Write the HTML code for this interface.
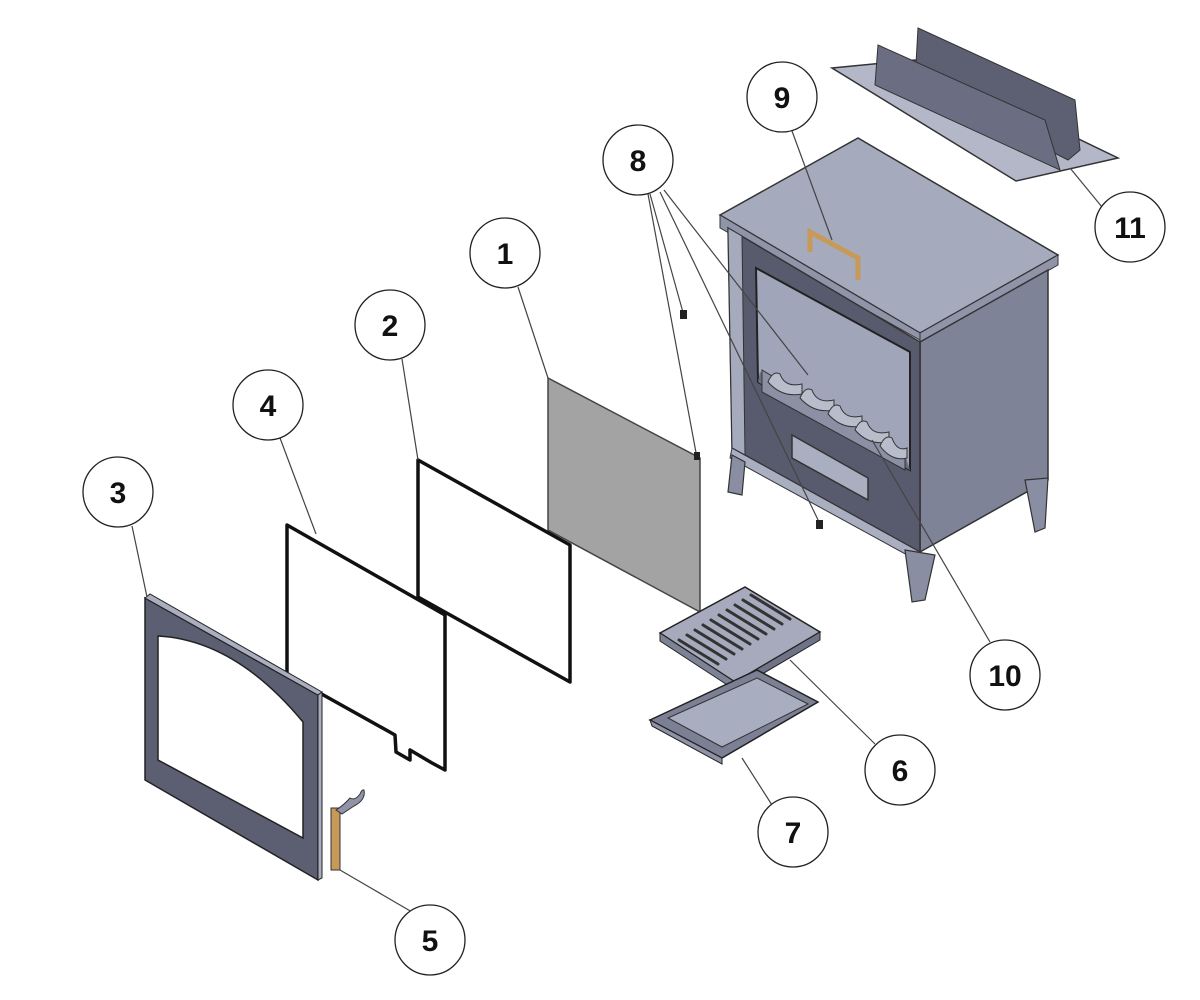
<!DOCTYPE html>
<html><head><meta charset="utf-8"><style>
html,body{margin:0;padding:0;background:#fff;}
svg{display:block;}
text{font-family:"Liberation Sans",sans-serif;font-size:30px;font-weight:bold;fill:#111;}
</style></head><body>
<svg width="1200" height="1000" viewBox="0 0 1200 1000" xmlns="http://www.w3.org/2000/svg">
<!-- top plate 11 -->
<polygon points="832,68 915,60 1118,158 1016,181" fill="#b4b7c7" stroke="#333" stroke-width="1.5"/>
<polygon points="918,28 1075,100 1080,150 1068,160 915,82" fill="#5d6073" stroke="#333" stroke-width="1"/>
<polygon points="878,45 1045,120 1060,170 875,85" fill="#6b6e82" stroke="#333" stroke-width="1"/>
<!-- stove -->
<polygon points="720,215 858,138 1058,255 920,333" fill="#a5aabd" stroke="#333" stroke-width="1.5"/>
<polygon points="720,215 920,333 920,340 720,228" fill="#8f94a8" stroke="#333"/>
<polygon points="920,333 1058,255 1058,265 920,343" fill="#8f94a8" stroke="#333"/>
<polygon points="920,342 1048,270 1048,480 920,552" fill="#7e8398" stroke="#333" stroke-width="1.5"/>
<polygon points="728,228 920,342 920,552 732,448" fill="#585b6e" stroke="#333" stroke-width="1.5"/>
<polygon points="728,228 742,236 745,455 732,448" fill="#a5aabd" stroke="#333"/>
<polygon points="756,268 910,352 910,470 758,382" fill="#a0a5ba" stroke="#222" stroke-width="2"/>
<polygon points="758,382 910,470 905,455 760,372" fill="#6a6e82"/>
<polygon points="762,370 905,455 905,470 762,392" fill="#8c90a4" stroke="#333"/>
<polygon points="792,435 868,478 868,500 792,458" fill="#a9aec0" stroke="#333" stroke-width="1.5"/>
<polygon points="732,448 920,552 920,562 730,458" fill="#a9aec0" stroke="#333"/>
<!-- grate teeth -->
<g fill="#b8bccb" stroke="#333" stroke-width="1">
<path d="M768,382 q5,-12 12,-8 q5,14 22,10 l0,10 q-20,4 -34,-12z"/>
<path d="M800,398 q5,-12 12,-8 q5,14 22,10 l0,10 q-20,4 -34,-12z"/>
<path d="M828,414 q5,-12 12,-8 q5,14 22,10 l0,10 q-20,4 -34,-12z"/>
<path d="M855,430 q5,-12 12,-8 q5,14 22,10 l0,10 q-20,4 -34,-12z"/>
<path d="M880,446 q5,-12 12,-8 q5,14 15,10 l0,10 q-15,4 -27,-12z"/>
</g>
<!-- legs -->
<g fill="#8a8ea2" stroke="#333" stroke-width="1.2">
<polygon points="732,455 745,462 742,495 728,492"/>
<polygon points="905,550 935,555 925,600 912,602"/>
<polygon points="1025,480 1048,478 1045,528 1035,532"/>
</g>
<!-- handle 9 -->
<path d="M810,252 L810,232 L858,258 L858,280" fill="none" stroke="#c79a5a" stroke-width="5"/>
<!-- glass 1 -->
<polygon points="548,378 700,458 700,612 548,530" fill="#a3a3a3" stroke="#444" stroke-width="1.5"/>
<!-- gasket 2 -->
<polygon points="418,460 570,545 570,682 418,597" fill="none" stroke="#111" stroke-width="3.5" stroke-linejoin="round"/>
<!-- gasket 4 -->
<path d="M287,525 L445,615 L445,770 L432,763 L410,750 L410,760 L396,752 L395,735 L318,692 L287,675 Z" fill="none" stroke="#111" stroke-width="3.5" stroke-linejoin="round"/>
<!-- door 3 -->
<polygon points="145,598 318,695 318,880 145,780" fill="#5c5f72" stroke="#222" stroke-width="1.5"/>
<polygon points="145,598 150,594 322,692 318,695" fill="#a9aec0" stroke="#222"/>
<polygon points="318,695 322,692 322,878 318,880" fill="#a9aec0" stroke="#222"/>
<path d="M158,636 Q235,640 303,722 L303,838 L158,760 Z" fill="#fff" stroke="#222" stroke-width="1.5"/>
<!-- handle 5 -->
<rect x="331" y="808" width="9" height="62" fill="#c79a5a" stroke="#333"/>
<path d="M336,810 q8,-5 14,-12 q5,3 10,-4 q2,-5 4,-4 q2,10 -10,16 l-12,8z" fill="#9094a6" stroke="#333"/>
<!-- grate 6 -->
<polygon points="660,633 745,587 820,632 735,682" fill="#a6aabc" stroke="#222" stroke-width="1.5"/>
<polygon points="660,633 735,682 735,690 660,641" fill="#7e8296" stroke="#222"/>
<polygon points="735,682 820,632 820,640 735,690" fill="#6f7388" stroke="#222"/>
<g stroke="#333" stroke-width="3" stroke-linecap="round">
<line x1="679" y1="640" x2="718" y2="664"/><line x1="687" y1="635" x2="726" y2="659"/>
<line x1="695" y1="630" x2="734" y2="654"/><line x1="703" y1="625" x2="742" y2="649"/>
<line x1="711" y1="620" x2="750" y2="644"/><line x1="719" y1="615" x2="758" y2="639"/>
<line x1="727" y1="610" x2="766" y2="634"/><line x1="735" y1="605" x2="774" y2="629"/>
<line x1="743" y1="600" x2="782" y2="624"/><line x1="751" y1="595" x2="790" y2="619"/>
</g>
<!-- ash pan 7 -->
<polygon points="650,720 757,670 818,702 722,758" fill="#7c8094" stroke="#222" stroke-width="1.5"/>
<polygon points="668,718 757,678 808,704 722,747" fill="#a8adbf" stroke="#333"/>
<polygon points="650,720 722,758 722,764 652,726" fill="#8f93a6" stroke="#222"/>
<!-- leader lines -->
<g stroke="#444" stroke-width="1.2" fill="none">
<line x1="518" y1="287" x2="548" y2="378"/>
<line x1="402" y1="359" x2="418" y2="460"/>
<line x1="132" y1="526" x2="147" y2="597"/>
<line x1="280" y1="438" x2="316" y2="534"/>
<line x1="412" y1="912" x2="340" y2="870"/>
<line x1="875" y1="744" x2="790" y2="660"/>
<line x1="772" y1="805" x2="742" y2="758"/>
<line x1="650" y1="194" x2="684" y2="316"/>
<line x1="648" y1="194" x2="697" y2="458"/>
<line x1="660" y1="192" x2="820" y2="524"/>
<line x1="664" y1="190" x2="808" y2="375"/>
<line x1="792" y1="131" x2="832" y2="240"/>
<line x1="990" y1="642" x2="872" y2="440"/>
<line x1="1102" y1="207" x2="1070" y2="168"/>
</g>
<g fill="#222">
<rect x="680" y="310" width="7" height="9"/><rect x="694" y="452" width="6" height="8"/><rect x="816" y="520" width="7" height="9"/>
</g>
<!-- callouts -->
<g fill="#fff" stroke="#222" stroke-width="1.3">
<circle cx="505" cy="253" r="35"/><circle cx="390" cy="325" r="35"/><circle cx="118" cy="492" r="35"/>
<circle cx="268" cy="405" r="35"/><circle cx="430" cy="940" r="35"/><circle cx="900" cy="770" r="35"/>
<circle cx="793" cy="832" r="35"/><circle cx="638" cy="160" r="35"/><circle cx="782" cy="97" r="35"/>
<circle cx="1005" cy="675" r="35"/><circle cx="1130" cy="227" r="35"/>
</g>
<g text-anchor="middle">
<text x="505" y="264">1</text><text x="390" y="336">2</text><text x="118" y="503">3</text>
<text x="268" y="416">4</text><text x="430" y="951">5</text><text x="900" y="781">6</text>
<text x="793" y="843">7</text><text x="638" y="171">8</text><text x="782" y="108">9</text>
<text x="1005" y="686">10</text><text x="1130" y="238">11</text>
</g>
</svg>
</body></html>
